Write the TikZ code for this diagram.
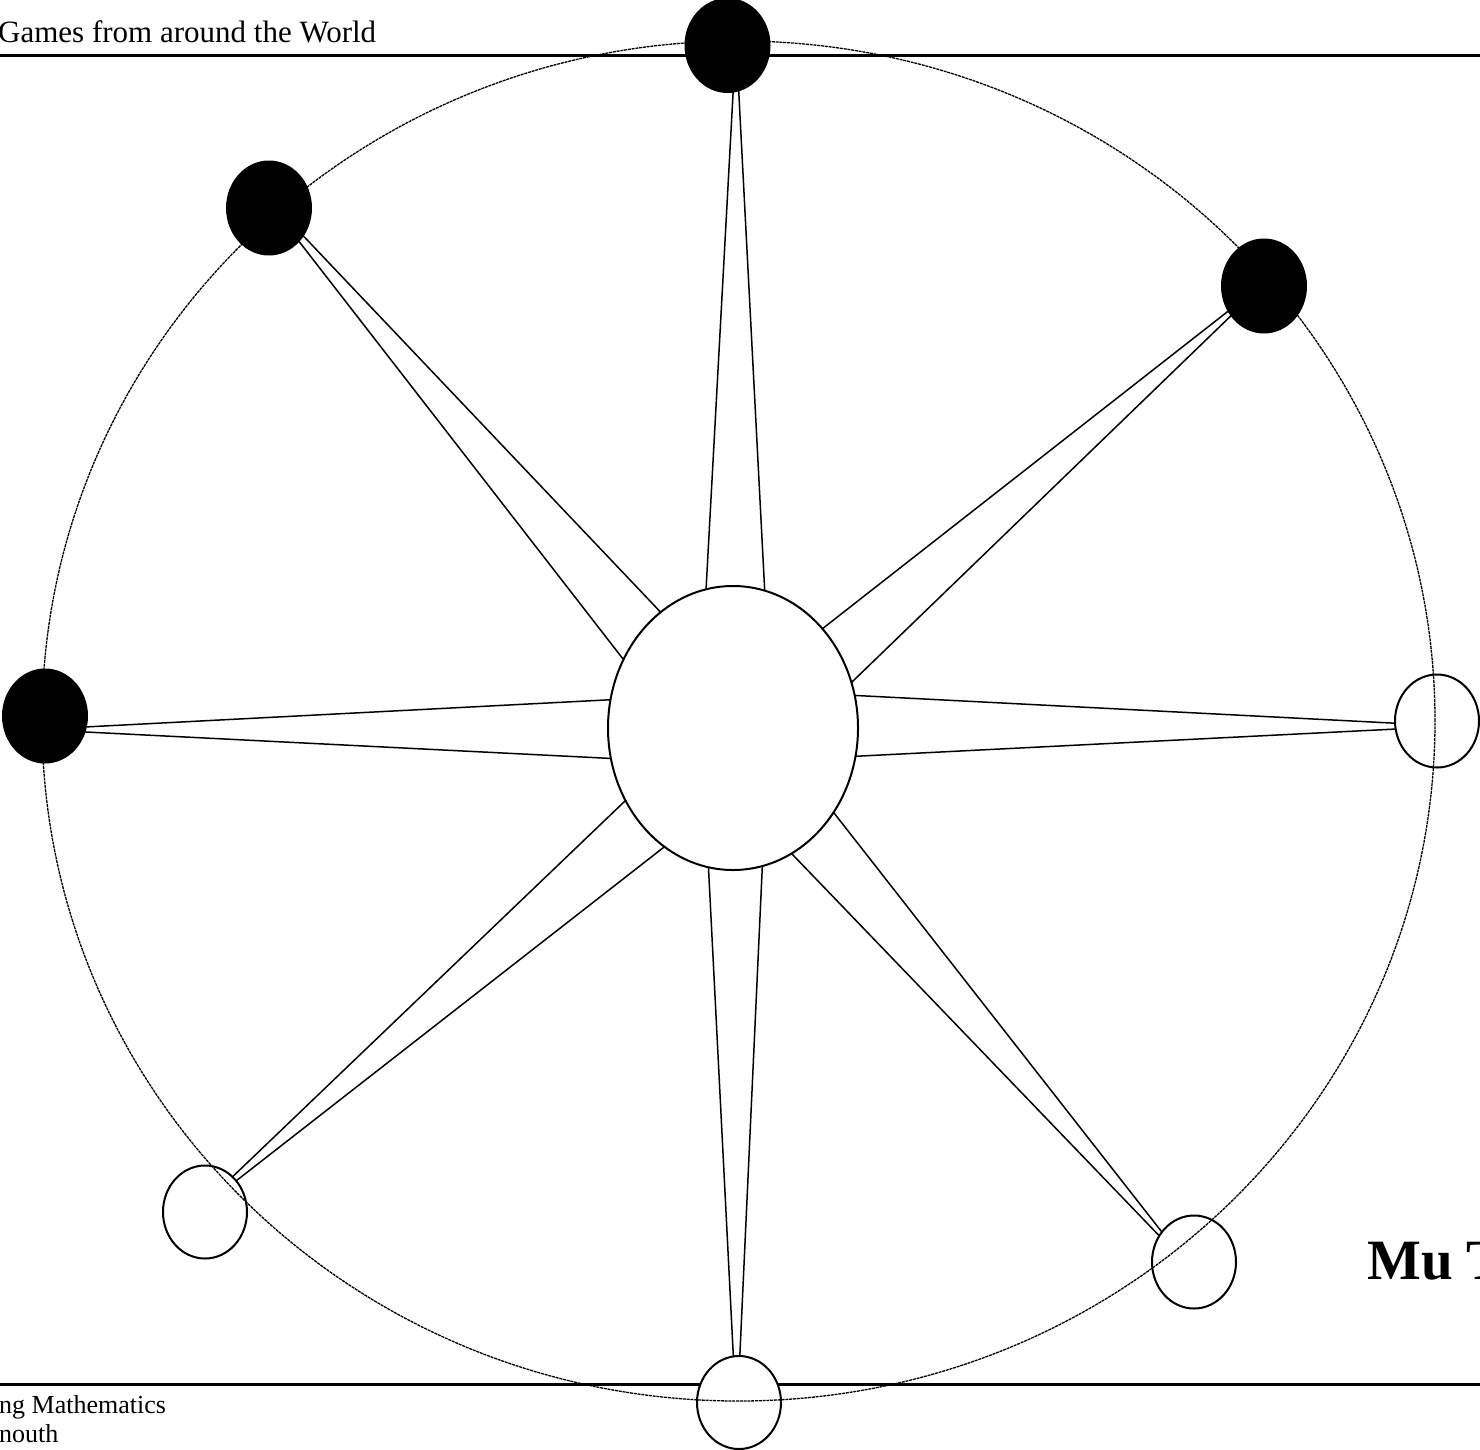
\documentclass[tikz,border=0pt]{standalone}
\usepackage{fontspec}
\setmainfont{Liberation Serif}
\usetikzlibrary{shapes.geometric}
\begin{document}
\begin{tikzpicture}[x=1pt,y=-1pt,
  hole/.style={ellipse, draw, line width=2pt, minimum width=84pt, minimum height=93pt, inner sep=0pt, outer sep=0pt},
  openhole/.style={hole, fill=white},
  blackhole/.style={hole, fill=black},
  hub/.style={ellipse, draw, line width=2pt, fill=white, minimum width=250pt, minimum height=284pt, inner sep=0pt, outer sep=0pt},
  ring/.style={ellipse, draw, line width=1.3pt, dash pattern=on 3pt off 0.8pt, minimum width=1393pt, minimum height=1360pt, inner sep=0pt, outer sep=0pt},
  spoke/.style={line width=1.5pt},
  rule/.style={line width=3pt},
  txt/.style={inner sep=0pt, anchor=base west}]

\useasboundingbox (0,0) rectangle (1480,1449);
\clip (0,0) rectangle (1480,1449);

% page rules
\coordinate (hl) at (0,55);
\coordinate (hr) at (1480,55);
\coordinate (fl) at (0,1384.5);
\coordinate (fr) at (1480,1384.5);
\draw[rule] (hl) -- (hr);
\draw[rule] (fl) -- (fr);

% texts
\node[txt, font=\fontsize{31}{37}\selectfont] (title) at (-2,42) {Games from around the World};
\node[txt, font=\fontsize{26}{30}\selectfont] (foot1) at (-1,1413) {ng Mathematics};
\node[txt, font=\fontsize{26}{30}\selectfont] (foot2) at (-1,1442) {nouth};
\node[txt, font=\fontsize{57}{66}\selectfont\bfseries] (name) at (1367,1279) {Mu T};

% open holes
\node[openhole] (rt) at (1437,721) {};
\node[openhole] (lr) at (1194,1262) {};
\node[openhole] (bt) at (739,1402.5) {};
\node[openhole] (ll) at (205,1212) {};

% outer ring
\node[ring] (ring) at (738.5,721) {};

% centre
\node[hub] (hub) at (733,728) {};

% black holes
\node[blackhole] (top) at (727.5,45.5) {};
\node[blackhole] (ul) at (269,208) {};
\node[blackhole] (ur) at (1264,286) {};
\node[blackhole] (lf) at (45,716) {};

% spokes
\draw[spoke] (hub.101) -- (top.277);
\draw[spoke] (hub.77) -- (top.284);
\draw[spoke] (hub.122) -- (ul.321);
\draw[spoke] (hub.148) -- (ul.312);
\draw[spoke] (hub.48) -- (ur.215);
\draw[spoke] (hub.21) -- (ur.222);
\draw[spoke] (hub.15) -- (rt.183);
\draw[spoke] (hub.347) -- (rt.191);
\draw[spoke] (hub.320) -- (lr.137);
\draw[spoke] (hub.295) -- (lr.143);
\draw[spoke] (hub.260) -- (bt.97);
\draw[spoke] (hub.282) -- (bt.89);
\draw[spoke] (hub.214) -- (ll.52);
\draw[spoke] (hub.240) -- (ll.45);
\draw[spoke] (hub.167) -- (lf.345);
\draw[spoke] (hub.194) -- (lf.338);
\end{tikzpicture}
\end{document}
